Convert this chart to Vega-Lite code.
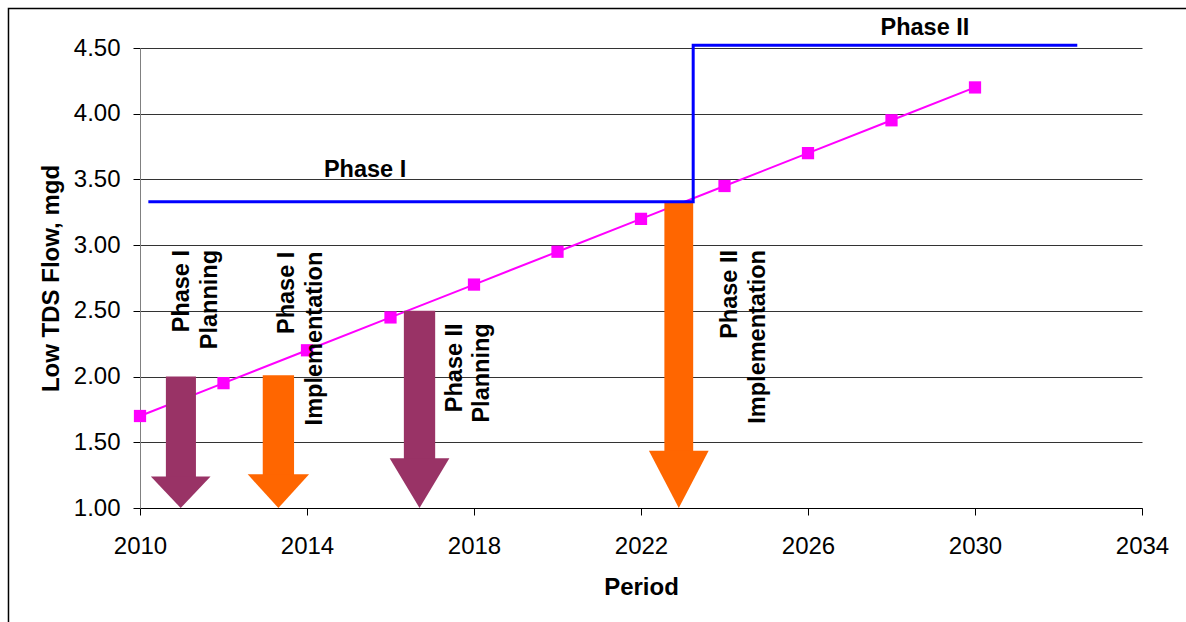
{
  "$schema": "https://vega.github.io/schema/vega-lite/v6.json",
  "width": 1002,
  "height": 460,
  "autosize": {"type": "none"},
  "padding": {"left": 140, "top": 48, "right": 44, "bottom": 114},
  "background": "white",
  "config": {
    "font": "Liberation Sans",
    "view": {"stroke": null}
  },
  "datasets": {
    "frame": [{"x1": 2006.85, "x2": 2035.6, "y1": 4.80, "y2": 0.0}],
    "flow": [
      {"year": 2010, "flow": 1.70},
      {"year": 2012, "flow": 1.95},
      {"year": 2014, "flow": 2.20},
      {"year": 2016, "flow": 2.45},
      {"year": 2018, "flow": 2.70},
      {"year": 2020, "flow": 2.95},
      {"year": 2022, "flow": 3.20},
      {"year": 2024, "flow": 3.45},
      {"year": 2026, "flow": 3.70},
      {"year": 2028, "flow": 3.95},
      {"year": 2030, "flow": 4.20}
    ],
    "capacity": [
      {"year": 2010.2, "cap": 3.33, "ord": 1},
      {"year": 2023.25, "cap": 3.33, "ord": 2},
      {"year": 2023.25, "cap": 4.52, "ord": 3},
      {"year": 2032.45, "cap": 4.52, "ord": 4}
    ],
    "shafts": [
      {"arrow": "A1", "kind": "Planning", "x1": 2010.62, "x2": 2011.34, "top": 2.00, "bottom": 1.23},
      {"arrow": "A2", "kind": "Implementation", "x1": 2012.94, "x2": 2013.69, "top": 2.01, "bottom": 1.25},
      {"arrow": "A3", "kind": "Planning", "x1": 2016.32, "x2": 2017.07, "top": 2.50, "bottom": 1.37},
      {"arrow": "A4", "kind": "Implementation", "x1": 2022.56, "x2": 2023.25, "top": 3.33, "bottom": 1.43}
    ],
    "heads": [
      {"arrow": "A1", "kind": "Planning", "x": 2010.26, "hy": 1.24, "hy2": 1.24},
      {"arrow": "A1", "kind": "Planning", "x": 2010.975, "hy": 1.24, "hy2": 1.0},
      {"arrow": "A1", "kind": "Planning", "x": 2011.69, "hy": 1.24, "hy2": 1.24},
      {"arrow": "A2", "kind": "Implementation", "x": 2012.58, "hy": 1.256, "hy2": 1.256},
      {"arrow": "A2", "kind": "Implementation", "x": 2013.315, "hy": 1.256, "hy2": 1.0},
      {"arrow": "A2", "kind": "Implementation", "x": 2014.05, "hy": 1.256, "hy2": 1.256},
      {"arrow": "A3", "kind": "Planning", "x": 2015.98, "hy": 1.378, "hy2": 1.378},
      {"arrow": "A3", "kind": "Planning", "x": 2016.695, "hy": 1.378, "hy2": 1.0},
      {"arrow": "A3", "kind": "Planning", "x": 2017.41, "hy": 1.378, "hy2": 1.378},
      {"arrow": "A4", "kind": "Implementation", "x": 2022.19, "hy": 1.436, "hy2": 1.436},
      {"arrow": "A4", "kind": "Implementation", "x": 2022.905, "hy": 1.436, "hy2": 1.0},
      {"arrow": "A4", "kind": "Implementation", "x": 2023.62, "hy": 1.436, "hy2": 1.436}
    ],
    "rotlabels": [
      {"label": "Phase I", "x": 2011.01, "y": 2.963},
      {"label": "Planning", "x": 2011.67, "y": 2.963},
      {"label": "Phase I", "x": 2013.52, "y": 2.95},
      {"label": "Implementation", "x": 2014.19, "y": 2.95},
      {"label": "Phase II", "x": 2017.54, "y": 2.405},
      {"label": "Planning", "x": 2018.18, "y": 2.405},
      {"label": "Phase II", "x": 2024.12, "y": 2.963},
      {"label": "Implementation", "x": 2024.80, "y": 2.963}
    ],
    "hlabels": [
      {"label": "Phase I", "x": 2015.39, "y": 3.574},
      {"label": "Phase II", "x": 2028.80, "y": 4.654}
    ]
  },
  "layer": [
    {
      "data": {"name": "flow"},
      "mark": {"type": "line", "color": "#FF00FF", "strokeWidth": 2, "point": {"shape": "square", "filled": true, "size": 150, "color": "#FF00FF", "opacity": 1}},
      "encoding": {
        "x": {
          "field": "year", "type": "quantitative", "title": "Period",
          "scale": {"domain": [2010, 2034], "nice": false, "zero": false},
          "axis": {
            "values": [2010, 2014, 2018, 2022, 2026, 2030, 2034],
            "format": "d", "grid": false, "tickSize": 7, "tickColor": "#000", "tickWidth": 1,
            "domainColor": "#000", "domainWidth": 1,
            "labelFontSize": 24, "labelColor": "#000", "labelPadding": 19, "labelFlush": false,
            "titleFontSize": 24, "titleFontWeight": "bold", "titleColor": "#000", "titlePadding": 17
          }
        },
        "y": {
          "field": "flow", "type": "quantitative", "title": "Low TDS Flow, mgd",
          "scale": {"domain": [1, 4.5], "nice": false, "zero": false},
          "axis": {
            "values": [1, 1.5, 2, 2.5, 3, 3.5, 4, 4.5],
            "format": ".2f", "grid": true, "gridColor": "#333", "gridWidth": 1,
            "tickSize": 7, "tickColor": "#000", "tickWidth": 1,
            "domainColor": "#808080", "domainWidth": 1,
            "labelFontSize": 24, "labelColor": "#000", "labelPadding": 13,
            "titleFontSize": 24, "titleFontWeight": "bold", "titleColor": "#000", "titlePadding": 10
          }
        }
      }
    },
    {
      "data": {"name": "frame"},
      "mark": {"type": "rect", "filled": false, "stroke": "#000", "strokeWidth": 1.5},
      "encoding": {
        "x": {"field": "x1", "type": "quantitative", "title": "Period"},
        "x2": {"field": "x2"},
        "y": {"field": "y1", "type": "quantitative", "title": "Low TDS Flow, mgd"},
        "y2": {"field": "y2"}
      }
    },
    {
      "data": {"name": "shafts"},
      "mark": {"type": "rect"},
      "encoding": {
        "x": {"field": "x1", "type": "quantitative", "title": "Period"},
        "x2": {"field": "x2"},
        "y": {"field": "top", "type": "quantitative", "title": "Low TDS Flow, mgd"},
        "y2": {"field": "bottom"},
        "color": {"field": "kind", "type": "nominal", "scale": {"domain": ["Planning", "Implementation"], "range": ["#993366", "#FF6600"]}, "legend": null}
      }
    },
    {
      "data": {"name": "heads"},
      "mark": {"type": "area", "opacity": 1},
      "encoding": {
        "x": {"field": "x", "type": "quantitative", "title": "Period"},
        "y": {"field": "hy", "type": "quantitative", "title": "Low TDS Flow, mgd"},
        "y2": {"field": "hy2"},
        "detail": {"field": "arrow"},
        "color": {"field": "kind", "type": "nominal", "legend": null}
      }
    },
    {
      "data": {"name": "capacity"},
      "mark": {"type": "line", "color": "#0000FF", "strokeWidth": 3},
      "encoding": {
        "x": {"field": "year", "type": "quantitative", "title": "Period"},
        "y": {"field": "cap", "type": "quantitative", "title": "Low TDS Flow, mgd"},
        "order": {"field": "ord"}
      }
    },
    {
      "data": {"name": "rotlabels"},
      "mark": {"type": "text", "angle": 270, "align": "right", "baseline": "middle", "fontSize": 23.5, "fontWeight": "bold", "color": "#000"},
      "encoding": {
        "x": {"field": "x", "type": "quantitative", "title": "Period"},
        "y": {"field": "y", "type": "quantitative", "title": "Low TDS Flow, mgd"},
        "text": {"field": "label"}
      }
    },
    {
      "data": {"name": "hlabels"},
      "mark": {"type": "text", "align": "center", "baseline": "middle", "fontSize": 23.5, "fontWeight": "bold", "color": "#000"},
      "encoding": {
        "x": {"field": "x", "type": "quantitative", "title": "Period"},
        "y": {"field": "y", "type": "quantitative", "title": "Low TDS Flow, mgd"},
        "text": {"field": "label"}
      }
    }
  ]
}
